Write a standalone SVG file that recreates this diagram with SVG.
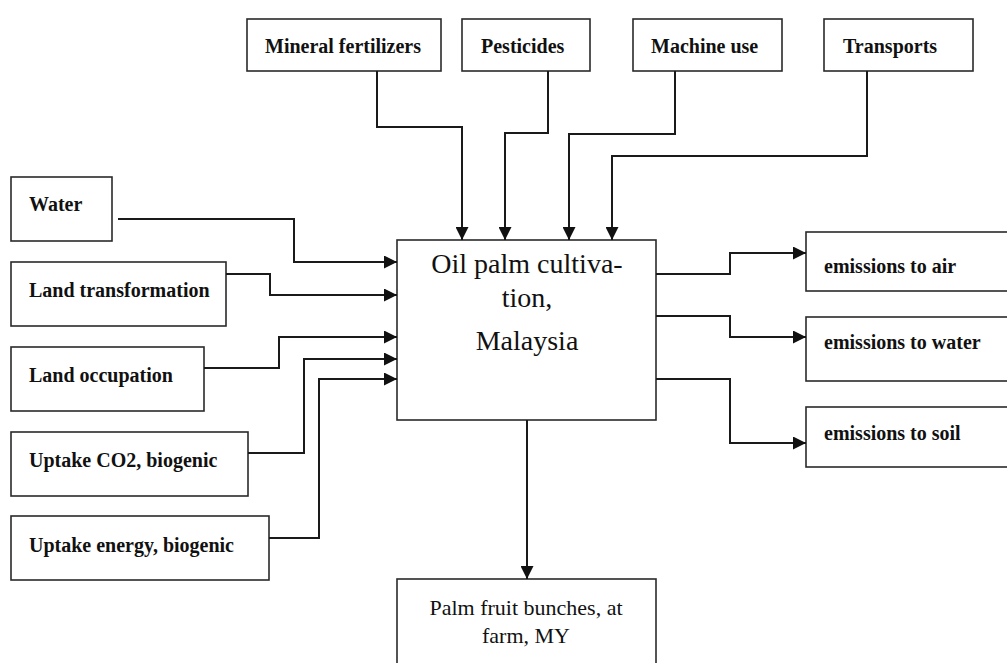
<svg xmlns="http://www.w3.org/2000/svg" width="1007" height="663" viewBox="0 0 1007 663">
  <style>
    .box { fill: #ffffff; stroke: #2a2a2a; stroke-width: 1.6; }
    .txt { font-family: "Liberation Serif", "Times New Roman", "DejaVu Serif", serif; fill: #111; }
    .lbl { font-size: 20px; font-weight: bold; }
    .main { font-size: 28px; text-anchor: middle; }
    .out { font-size: 22px; text-anchor: middle; }
    .wire { fill: none; stroke: #1a1a1a; stroke-width: 2; }
  </style>
  <defs>
    <marker id="arrow" markerUnits="userSpaceOnUse" markerWidth="14" markerHeight="13" refX="13" refY="6.5" orient="auto">
      <path d="M0,0 L13,6.5 L0,13 z" fill="#111"/>
    </marker>
  </defs>
  <rect width="1007" height="663" fill="#ffffff"/>

  <!-- top inputs -->
  <g id="mineral-fertilizers">
    <rect class="box" x="247" y="19" width="194" height="52"/>
    <text class="txt lbl" x="265" y="53">Mineral fertilizers</text>
  </g>
  <g id="pesticides">
    <rect class="box" x="462" y="19" width="128" height="52"/>
    <text class="txt lbl" x="481" y="53">Pesticides</text>
  </g>
  <g id="machine-use">
    <rect class="box" x="633" y="19" width="149" height="52"/>
    <text class="txt lbl" x="651" y="53">Machine use</text>
  </g>
  <g id="transports">
    <rect class="box" x="824" y="19" width="149" height="52"/>
    <text class="txt lbl" x="843" y="53">Transports</text>
  </g>

  <!-- left inputs -->
  <g id="water">
    <rect class="box" x="11" y="177" width="101" height="64"/>
    <text class="txt lbl" x="29" y="211">Water</text>
  </g>
  <g id="land-transformation">
    <rect class="box" x="11" y="262" width="215" height="64"/>
    <text class="txt lbl" x="29" y="297">Land transformation</text>
  </g>
  <g id="land-occupation">
    <rect class="box" x="11" y="347" width="193" height="64"/>
    <text class="txt lbl" x="29" y="382">Land occupation</text>
  </g>
  <g id="uptake-co2">
    <rect class="box" x="11" y="432" width="237" height="64"/>
    <text class="txt lbl" x="29" y="467">Uptake CO2, biogenic</text>
  </g>
  <g id="uptake-energy">
    <rect class="box" x="11" y="516" width="258" height="64"/>
    <text class="txt lbl" x="29" y="552">Uptake energy, biogenic</text>
  </g>

  <!-- central process -->
  <g id="oil-palm-cultivation">
    <rect class="box" x="397" y="240" width="259" height="180"/>
    <text class="txt main" x="527" y="273">Oil palm cultiva-</text>
    <text class="txt main" x="527" y="307">tion,</text>
    <text class="txt main" x="527" y="350">Malaysia</text>
  </g>

  <!-- emissions -->
  <g id="emissions-air">
    <rect class="box" x="806" y="232" width="210" height="59"/>
    <text class="txt lbl" x="824" y="273">emissions to air</text>
  </g>
  <g id="emissions-water">
    <rect class="box" x="806" y="317" width="210" height="64"/>
    <text class="txt lbl" x="824" y="349">emissions to water</text>
  </g>
  <g id="emissions-soil">
    <rect class="box" x="806" y="407" width="210" height="60"/>
    <text class="txt lbl" x="824" y="440">emissions to soil</text>
  </g>

  <!-- product -->
  <g id="palm-fruit-bunches">
    <rect class="box" x="397" y="579" width="259" height="100"/>
    <text class="txt out" x="526" y="615">Palm fruit bunches, at</text>
    <text class="txt out" x="526" y="643">farm, MY</text>
  </g>

  <!-- flows -->
  <g id="connectors">
    <path class="wire" marker-end="url(#arrow)" d="M377,71 V127 H462 V240"/>
    <path class="wire" marker-end="url(#arrow)" d="M548,71 V133 H505 V240"/>
    <path class="wire" marker-end="url(#arrow)" d="M675,71 V134 H569 V240"/>
    <path class="wire" marker-end="url(#arrow)" d="M867,71 V156 H612 V240"/>

    <path class="wire" marker-end="url(#arrow)" d="M118,219 H294 V262 H397"/>
    <path class="wire" marker-end="url(#arrow)" d="M226,274 H270 V295 H397"/>
    <path class="wire" marker-end="url(#arrow)" d="M204,368 H279 V337 H397"/>
    <path class="wire" marker-end="url(#arrow)" d="M248,453 H304 V359 H397"/>
    <path class="wire" marker-end="url(#arrow)" d="M269,538 H319 V379 H397"/>

    <path class="wire" marker-end="url(#arrow)" d="M656,274 H730 V253 H806"/>
    <path class="wire" marker-end="url(#arrow)" d="M656,316 H730 V337 H806"/>
    <path class="wire" marker-end="url(#arrow)" d="M656,379 H730 V443 H806"/>

    <path class="wire" marker-end="url(#arrow)" d="M527,420 V579"/>
  </g>
</svg>
